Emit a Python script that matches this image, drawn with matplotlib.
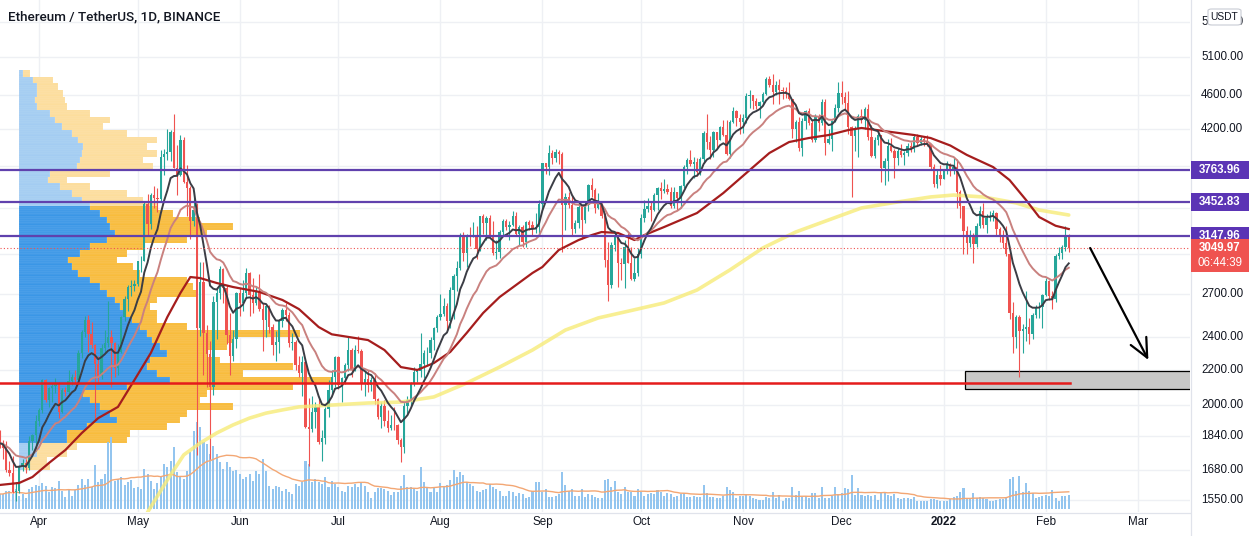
import numpy as np
import pandas as pd
import matplotlib
matplotlib.use("Agg")
import matplotlib.pyplot as plt
from matplotlib.patches import Rectangle, FancyBboxPatch
from matplotlib.lines import Line2D

# ---------------- data (days counted from 2021-04-01) ----------------
first_day = -12            # 2021-03-20
first_open = 1810

close = [1806,1782,1681,1669,1582,1588,1700,1714,1689,1817,1846,1919,
 1977,2143,2028,2093,2108,2115,1962,2085,2070,2136,2157,2139,2299,2432,2514,2422,2354,2237,2166,2330,2364,2402,2363,2211,2307,2534,2662,2747,2757,2772,
 2945,2949,3431,3253,3523,3490,3484,3902,3928,3952,4168,3785,3715,4079,3641,3587,3282,3380,2460,2784,2430,2295,2099,2643,2705,2887,2742,2418,2283,2390,2707,
 2633,2706,2856,2688,2630,2715,2590,2517,2610,2471,2353,2372,2508,2586,2547,2366,2372,2231,2179,2247,1887,1877,1965,1991,1813,1829,1978,2085,2160,2275,
 2113,2150,2226,2323,2197,2323,2316,2115,2146,2110,2139,2036,1940,1995,1917,1880,1898,1895,1820,1788,1995,2026,2123,2188,2190,2233,2300,2300,2381,2462,2536,
 2558,2610,2505,2724,2827,2890,3157,3012,3163,3142,3164,3047,3322,3266,3310,3147,3013,3018,3185,3286,3226,3243,3322,3173,3225,3101,3270,3245,3224,3228,3434,
 3834,3790,3938,3887,3952,3927,3430,3497,3427,3211,3268,3409,3289,3429,3613,3569,3398,3432,3329,2958,2765,3077,3155,2931,2925,3062,2933,2806,2850,3001,
 3307,3391,3418,3382,3517,3587,3561,3575,3545,3415,3545,3493,3606,3790,3868,3829,3847,3748,3877,4157,4057,3971,4170,4082,4220,4130,3930,4287,4415,4325,4288,
 4324,4587,4604,4530,4475,4521,4620,4812,4734,4637,4728,4667,4649,4627,4556,4205,4288,3988,4292,4414,4266,4083,4343,4271,4525,4043,4095,4294,4445,4632,
 4586,4512,4223,4120,4198,4350,4311,4433,4111,3906,4084,4136,3785,3861,4019,3961,3887,3958,3924,3937,4019,3983,4108,4045,4094,4063,4038,3795,3628,3713,3677,
 3766,3829,3761,3794,3550,3418,3194,3092,3157,3083,3239,3371,3246,3309,3330,3350,3212,3164,3095,3000,2560,2405,2536,2440,2458,2466,2424,2546,2600,2604,2688,
 2791,2679,2663,2987,3013,3057,3142,3050]

high = [1870,1823,1815,1720,1743,1626,1705,1733,1730,1839,1850,1950,
 1986,2144,2145,2100,2125,2150,2130,2095,2100,2200,2175,2200,2320,2450,2545,2548,2500,2360,2280,2355,2445,2645,2450,2370,2360,2540,2680,2760,2800,2800,
 2950,2985,3460,3530,3543,3610,3590,3970,3980,4200,4190,4372,4030,4130,4110,3820,3610,3560,3440,2940,2940,2480,2380,2680,2750,2910,2890,2760,2560,2450,2710,
 2740,2800,2890,2860,2815,2745,2845,2630,2620,2620,2490,2440,2520,2600,2630,2570,2430,2385,2280,2280,2270,2040,2050,2020,2040,1870,1990,2140,2200,2280,
 2280,2160,2240,2400,2330,2350,2410,2325,2190,2200,2160,2180,2040,2020,2030,1975,1950,1990,1900,1830,2020,2050,2130,2215,2200,2430,2320,2340,2400,2470,2550,
 2700,2670,2630,2750,2845,2950,3180,3185,3170,3230,3275,3235,3330,3340,3330,3335,3285,3120,3200,3300,3300,3280,3375,3360,3250,3250,3285,3290,3280,3350,3470,
 3840,3840,4027,3970,3985,3970,3950,3540,3550,3510,3290,3450,3430,3450,3625,3680,3590,3540,3440,3350,3100,3100,3170,3160,2970,3120,3175,3060,2970,3050,
 3340,3470,3490,3460,3540,3600,3640,3670,3625,3600,3600,3550,3620,3815,3890,3970,3900,3890,3895,4180,4375,4120,4180,4170,4240,4300,4300,4300,4460,4420,4380,
 4380,4630,4665,4610,4570,4530,4640,4830,4840,4868,4780,4810,4700,4700,4770,4560,4300,4340,4330,4420,4450,4300,4380,4370,4550,4550,4200,4300,4500,4770,
 4780,4640,4650,4240,4240,4370,4430,4460,4490,4250,4110,4170,4140,3885,4090,4100,3980,3990,4040,3965,4050,4060,4140,4150,4120,4120,4130,4040,3830,3770,3810,
 3770,3860,3840,3900,3880,3570,3420,3240,3200,3180,3260,3415,3440,3340,3370,3380,3360,3230,3200,3240,3020,2640,2550,2550,2490,2720,2530,2560,2620,2640,2700,
 2815,2800,2720,3000,3060,3075,3240,3170]

low = [1781,1730,1670,1652,1580,1546,1580,1675,1668,1681,1775,1770,
 1892,1960,2015,1993,2020,2065,1930,1960,2050,2060,2110,2115,2135,2270,2400,2305,2330,1920,2120,2145,2300,2340,2100,2160,2170,2300,2510,2575,2680,2720,
 2755,2860,2945,3160,3215,3400,3365,3460,3710,3870,3860,3780,3521,3700,3630,3325,3130,3240,1750,2410,2170,2100,1730,2055,2390,2660,2630,2360,2170,2250,2330,
 2540,2580,2670,2540,2560,2615,2580,2315,2400,2430,2290,2250,2300,2470,2510,2340,2320,2200,2160,2050,1880,1700,1860,1880,1800,1720,1800,1940,2060,2100,
 2090,2020,2120,2190,2160,2190,2300,2085,2050,2075,2080,2005,1925,1880,1890,1860,1870,1870,1800,1718,1760,1955,1995,2105,2130,2155,2150,2230,2270,2320,2435,
 2515,2540,2450,2460,2525,2720,2880,2950,2900,3070,3140,2965,3030,3170,3120,3140,2995,2960,2970,3150,3200,3115,3240,3150,3080,3060,3060,3200,3160,3180,3150,
 3380,3720,3710,3830,3850,3830,3020,3200,3400,3160,3180,3220,3130,3260,3370,3500,3350,3385,3310,2900,2650,2740,3030,2750,2800,2740,2930,2800,2790,2830,
 2970,3270,3360,3280,3370,3380,3480,3540,3530,3400,3400,3380,3400,3590,3720,3800,3680,3700,3710,3840,3980,3880,3900,3995,4075,4120,3920,3890,4270,4240,4150,
 4155,4270,4450,4440,4430,4330,4500,4610,4700,4500,4600,4500,4560,4570,4540,4100,4060,3960,3910,4200,4250,4060,4060,4180,4245,3920,4035,3960,4280,4400,
 4500,4420,4150,3500,3960,3900,4270,4200,4080,3900,3890,4030,3640,3620,3650,3950,3680,3820,3900,3810,3910,3950,3950,4030,4030,4010,4020,3760,3600,3590,3620,
 3670,3720,3700,3720,3400,3310,3000,3000,3060,2930,3060,3220,3220,3180,3280,3280,3160,3100,3050,2990,2520,2300,2330,2159,2300,2380,2360,2390,2530,2530,2460,
 2680,2655,2590,2640,2960,2960,3030,3020]

volume = [45,45,53,55,45,60,40,45,33,60,67,73,70,77,70,50,67,63,83,55,37,
 60,40,57,73,90,73,90,65,133,80,90,105,200,217,85,90,95,73,80,87,
 63,65,60,120,105,85,60,77,100,135,125,145,185,110,95,90,115,170,235,260,
 245,200,195,165,190,165,140,120,140,125,115,117,105,90,95,105,85,115,105,150,115,
 70,60,70,65,55,60,50,45,75,70,80,145,135,80,90,80,75,95,65,85,
 75,65,55,50,70,65,75,65,
 80,70,50,33,50,63,63,60,55,43,50,52,70,103,67,67,63,55,127,
 82,67,50,67,50,77,70,73,87,117,95,110,103,80,75,70,55,50,57,60,
 75,65,60,55,40,40,55,50,40,47,45,33,35,55,80,80,50,60,37,37,
 40,45,110,73,55,60,40,40,60,37,45,43,37,33,33,87,90,65,85,50,45,
 67,50,50,40,60,50,40,45,47,45,57,50,40,47,45,37,40,45,47,35,
 37,40,35,37,73,47,37,35,
 33,33,40,67,57,50,33,40,40,43,40,33,30,27,27,37,33,50,33,
 43,23,33,33,67,43,55,37,40,33,47,47,33,65,33,33,40,67,45,47,
 63,60,103,43,63,43,40,43,40,43,27,47,47,43,40,45,33,30,33,33,30,
 35,25,23,23,23,30,30,27,25,23,25,30,37,40,50,63,30,33,47,33,
 37,33,30,25,23,27,30,30,33,90,97,55,100,50,77,55,47,33,35,40,
 43,40,57,33,25,40,40,42]

ma50_day = [-12,-6,-2,3,8,13,18,24,29,34,39,43,46,49,54,59,67,74,79,85,89,100,105,110,115,
 120,125,130,135,140,145,150,153,158,164,168,171,176,181,184,190,200,208,215,222,
 228,234,240,246,250,259,266,271,277,282,290,295,300,304,309,313]
ma50_val = [1614,1623,1649,1712,1773,1856,1932,1991,2140,2302,2535,2705,2823,2815,2778,2748,2712,2654,2590,2468,2420,2383,2320,2216,2199,
 2240,2308,2429,2563,2675,2763,2854,2900,3036,3118,3160,3186,3178,3118,3160,3229,3353,3538,3734,3940,
 4058,4102,4135,4191,4214,4169,4135,4102,4020,3920,3794,3664,3473,3317,3240,3212]

ma200_day = [33,39,44,49,54,59,64,69,74,79,89,100,110,120,130,140,150,160,170,180,190,200,210,220,230,240,250,261,271,278,287,297,304,313]
ma200_val = [1500,1636,1750,1807,1856,1897,1932,1958,1975,1991,2001,2012,2017,2045,2123,2216,2320,2448,2529,2580,2633,2726,2877,3052,3186,3291,3399,3454,3501,3519,3501,3445,3380,3335]

# visible-range volume profile, rows from top (4925) to bottom (1680)
profile_top, profile_bottom = 4925, 1680
profile_up = [12,42,52,52,47,52,92,107,127,157,177,192,187,182,172,92,87,122,157,187,
 212,242,262,272,287,262,212,182,147,157,177,212,242,262,287,302,317,337,362,382,
 397,422,442,392,382,412,452,322,192,212,242,272,292,202,142,142,62,52,22,12]
profile_down = [20,60,65,80,90,90,120,165,125,165,235,190,225,190,230,180,55,90,165,185,
 200,220,280,370,275,240,160,140,145,185,185,290,280,270,125,90,95,75,140,460,
 245,200,120,210,440,260,490,500,370,330,400,230,190,240,190,180,110,90,60,80]
value_area_high, value_area_low = 3413, 1807

level_prices = [3763.96, 3452.83, 3147.96]
last_price = 3049.97
countdown = "06:44:39"
support_price = 2124
support_end_day = 313.4
zone_low, zone_high, zone_start_day = 2087, 2195, 281.6
arrow_start = (319.5, 3052)
arrow_end = (337.2, 2259)

grid_prices = [5600, 5100, 4600, 4200, 3800, 3400, 3000, 2700, 2400, 2200, 2000, 1840, 1680, 1550]
label_prices = [5600, 5100, 4600, 4200, 2700, 2400, 2200, 2000, 1840, 1680, 1550]
month_days = [0, 30, 61, 91, 122, 153, 183, 214, 244, 275, 306, 334]
month_labels = ["Apr", "May", "Jun", "Jul", "Aug", "Sep", "Oct", "Nov", "Dec", "2022", "Feb", "Mar"]

# ---------------- figure ----------------
W, H = 1260, 536
fig = plt.figure(figsize=(W / 100, H / 100), dpi=100)
fig.patch.set_facecolor("white")
rect = [0, 24 / H, 1190 / W, 512 / H]
XMIN, XMAX = -11.854, 349.85
YMIN, YMAX = 1501.0, 5944.6

ax_p = fig.add_axes(rect, zorder=0)
ax_v = fig.add_axes(rect, zorder=1)
ax = fig.add_axes(rect, zorder=2)
for a in (ax_p, ax_v, ax):
    a.set_axis_off()
ax_v.patch.set_visible(False)
ax.patch.set_visible(False)

ax.set_yscale("log"); ax.set_xlim(XMIN, XMAX); ax.set_ylim(YMIN, YMAX)
ax_p.set_yscale("log"); ax_p.set_ylim(YMIN, YMAX); ax_p.set_xlim(-58, 3512)
ax_v.set_xlim(XMIN, XMAX); ax_v.set_ylim(-9, 1527)

grid_c = "#eef0f4"
for p in grid_prices:
    ax_p.axhline(p, color=grid_c, lw=1, zorder=0)
for d in month_days:
    ax_p.axvline(-58 + 3570 * (d - XMIN) / (XMAX - XMIN), color=grid_c, lw=1, zorder=0)

# volume profile
nsub = 3
up = np.repeat(profile_up, nsub)
dn = np.repeat(profile_down, nsub)
edges = np.geomspace(profile_top, profile_bottom, len(profile_up) * nsub + 1)
lo_e, hi_e = edges[1:], edges[:-1]
cen = np.sqrt(lo_e * hi_e)
in_va = (cen <= value_area_high) & (cen >= value_area_low)
up_c = np.where(in_va, "#3a96e6", "#a3ccf2")
dn_c = np.where(in_va, "#f8bc3c", "#fcdd9c")
ax_p.barh(lo_e, up, height=hi_e - lo_e, left=0, align="edge", color=list(up_c),
          edgecolor=(1, 1, 1, 0.3), linewidth=0.2, zorder=1)
ax_p.barh(lo_e, dn, height=hi_e - lo_e, left=up, align="edge", color=list(dn_c),
          edgecolor=(1, 1, 1, 0.3), linewidth=0.2, zorder=1)

# candles
n = len(close)
x = np.arange(first_day, first_day + n)
c = np.array(close, float)
o = np.array([first_open] + close[:-1], float)
h = np.array(high, float)
l = np.array(low, float)
cols = np.where(c >= o, "#26a69a", "#ef5350")

# volume
vol = np.array(volume, float)
ax_v.bar(x, vol, width=0.62, color="#93c5ef", linewidth=0, zorder=1)
vol_ma = pd.Series(vol).rolling(20, min_periods=1).mean()
ax_v.plot(x, vol_ma, color="#f3a774", lw=1.0, zorder=2)

# zone box + support line
ax.add_patch(Rectangle((zone_start_day, zone_low), XMAX - zone_start_day + 2, zone_high - zone_low,
                       facecolor="#c8c8c8", edgecolor="black", lw=0.9, zorder=1))

ax.vlines(x, l, h, colors=list(cols), lw=0.8, zorder=3)
ax.bar(x, np.abs(c - o), bottom=np.minimum(o, c), width=0.7, color=list(cols), linewidth=0, zorder=3)

# moving averages
cs = pd.Series(c)
ema_fast = cs.ewm(span=9, adjust=False).mean()
ema_slow = cs.ewm(span=21, adjust=False).mean()
ax.plot(ma200_day, ma200_val, color="#f7eb78", lw=2.6, alpha=0.8, zorder=4, solid_capstyle="round")
ax.plot(ma50_day, ma50_val, color="#a51d1d", lw=1.6, zorder=5)
ax.plot(x, ema_slow, color="#c9817f", lw=1.4, zorder=5)
ax.plot(x, ema_fast, color="#3b3d45", lw=1.4, zorder=6)

# horizontal levels
purple = "#6041ad"
for p in level_prices:
    ax.axhline(p, color=purple, lw=1.6, zorder=7)
ax.axhline(last_price, color="#ef5350", lw=0.8, ls=(0, (1, 2)), zorder=7)
ax.plot([XMIN, support_end_day], [support_price, support_price], color="#e51c1c", lw=1.8, zorder=7)

ax.annotate("", xy=arrow_end, xytext=arrow_start,
            arrowprops=dict(arrowstyle="->,head_length=0.75,head_width=0.35", lw=1.6,
                            color="black", mutation_scale=18, shrinkA=0, shrinkB=0), zorder=8)

# ---------------- axes decorations ----------------
fig.canvas.draw()

def fy_price(p):
    return ax.transData.transform((0, p))[1] / H

def fx_day(d):
    return ax.transData.transform((d, 2000))[0] / W

txt_c = "#131722"
font = "Liberation Sans"
for p in label_prices:
    fig.text(1201 / W, fy_price(p), f"{p:.2f}", ha="left", va="center", fontsize=8.4,
             color=txt_c, family=font, zorder=5)

for d, lab in zip(month_days, month_labels):
    fig.text(fx_day(d), 1 - 522 / H, lab, ha="center", va="center", fontsize=8.4, color=txt_c,
             family=font, fontweight="bold" if lab == "2022" else "normal", zorder=5)

fig.add_artist(Line2D([1190.5 / W, 1190.5 / W], [0, 1], color="#e0e3eb", lw=0.9, zorder=4))
fig.add_artist(Line2D([0, 1190 / W], [1 - 512.5 / H, 1 - 512.5 / H], color="#e0e3eb", lw=0.9, zorder=4))

for p in level_prices:
    yc = fy_price(p)
    fig.add_artist(Rectangle((1191 / W, yc - 9 / H), 58 / W, 18 / H, transform=fig.transFigure,
                             facecolor="#5b34b5", edgecolor="none", zorder=10))
    fig.text(1220 / W, yc, f"{p:.2f}", ha="center", va="center", fontsize=8.3, color="white",
             fontweight="bold", family=font, zorder=11)

yc = fy_price(last_price)
fig.add_artist(Rectangle((1191 / W, yc - 24 / H), 58 / W, 33 / H, transform=fig.transFigure,
                         facecolor="#ef5350", edgecolor="none", zorder=12))
fig.text(1220 / W, yc, f"{last_price:.2f}", ha="center", va="center", fontsize=8.3, color="white",
         fontweight="bold", family=font, zorder=13)
fig.text(1220 / W, yc - 15 / H, countdown, ha="center", va="center", fontsize=8.3, color="white",
         family=font, zorder=13)

fig.add_artist(FancyBboxPatch((1208 / W, 1 - 25 / H), 33 / W, 16 / H, transform=fig.transFigure,
                              boxstyle="round,pad=0,rounding_size=0.003", facecolor="white",
                              edgecolor="#c9ccd4", lw=0.8, zorder=14))
fig.text(1224.5 / W, 1 - 17 / H, "USDT", ha="center", va="center", fontsize=7.4, color=txt_c,
         family=font, zorder=15)

fig.text(8 / W, 1 - 17 / H, "Ethereum / TetherUS, 1D, BINANCE", ha="left", va="center",
         fontsize=9.7, color=txt_c, family="Roboto", fontweight="medium", zorder=15)

fig.savefig("out.png", dpi=100, facecolor="white")
